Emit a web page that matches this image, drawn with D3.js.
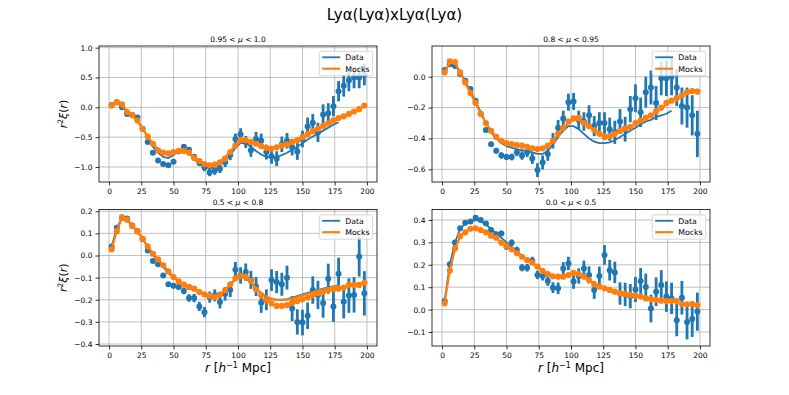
<!DOCTYPE html>
<html>
<head>
<meta charset="utf-8">
<title>Lya(Lya)xLya(Lya) wedges</title>
<script src="https://cdnjs.cloudflare.com/ajax/libs/d3/7.8.5/d3.min.js"></script>
<style>
  body { margin: 0; background: #fff; }
  svg text { font-family: "DejaVu Sans", sans-serif; fill: #000; }
</style>
</head>
<body>
<svg id="chart" width="789" height="395"></svg>
<script>
// separation bins (h^-1 Mpc)
var rBins = [2,6,10,14,18,22,26,30,34,38,42,46,50,54,58,62,66,70,74,78,82,86,90,94,98,
             102,106,110,114,118,122,126,130,134,138,142,146,150,154,158,162,166,170,174,178,182,186,190,194,198];
var rFit = rBins.slice(0, 45); // fits only go to ~180

var xTicks = [0,25,50,75,100,125,150,175,200];
var wedgeLabels = [["0.95","1.0"],["0.8","0.95"],["0.5","0.8"],["0.0","0.5"]];

// 0.95 < mu < 1.0
var data1 = [0.04,0.08,0.0,-0.11,-0.13,-0.17,-0.36,-0.58,-0.76,-0.89,-0.95,-0.97,-0.91,-0.74,-0.66,-0.71,-0.83,-0.93,-1.01,-1.09,
             -1.06,-1.03,-0.92,-0.8,-0.53,-0.45,-0.58,-0.72,-0.53,-0.56,-0.75,-0.82,-0.86,-0.62,-0.56,-0.67,-0.74,-0.53,-0.32,-0.26,
             -0.42,-0.12,-0.1,0.02,0.27,0.36,0.45,0.5,0.5,0.55];
var err1 = [0.02,0.02,0.02,0.02,0.02,0.02,0.02,0.02,0.03,0.03,0.03,0.03,0.03,0.04,0.04,0.045,0.05,0.055,0.06,0.065,
            0.07,0.07,0.08,0.085,0.09,0.1,0.1,0.11,0.12,0.12,0.125,0.125,0.125,0.13,0.13,0.135,0.14,0.14,0.15,0.15,
            0.16,0.17,0.17,0.17,0.17,0.18,0.18,0.18,0.18,0.18];
var mock1 = [0.03,0.09,0.05,-0.08,-0.13,-0.22,-0.36,-0.49,-0.61,-0.72,-0.76,-0.77,-0.75,-0.73,-0.73,-0.76,-0.85,-0.9,-0.95,-0.97,
             -0.96,-0.92,-0.86,-0.75,-0.64,-0.55,-0.55,-0.58,-0.61,-0.65,-0.68,-0.69,-0.67,-0.64,-0.62,-0.58,-0.55,-0.5,-0.45,-0.4,
             -0.36,-0.31,-0.27,-0.22,-0.18,-0.15,-0.11,-0.07,-0.03,0.03];
var fit1 = [0.05,0.07,0.02,-0.07,-0.14,-0.22,-0.34,-0.5,-0.66,-0.76,-0.83,-0.85,-0.8,-0.74,-0.72,-0.76,-0.86,-0.95,-1.0,-1.02,
            -1.01,-0.97,-0.9,-0.8,-0.68,-0.6,-0.6,-0.66,-0.73,-0.79,-0.83,-0.84,-0.83,-0.8,-0.76,-0.71,-0.66,-0.6,-0.54,-0.49,
            -0.44,-0.39,-0.34,-0.29,-0.25];
var fitMock1 = [0.03,0.08,0.04,-0.06,-0.14,-0.23,-0.36,-0.49,-0.61,-0.7,-0.75,-0.76,-0.75,-0.73,-0.73,-0.77,-0.84,-0.9,-0.94,-0.96,
                -0.95,-0.91,-0.84,-0.74,-0.64,-0.57,-0.55,-0.58,-0.62,-0.65,-0.68,-0.69,-0.67,-0.65,-0.62,-0.58,-0.54,-0.5,-0.46,-0.41,
                -0.37,-0.32,-0.28,-0.24,-0.2];

// 0.8 < mu < 0.95
var data2 = [0.043,0.08,0.07,0.017,-0.026,-0.08,-0.155,-0.24,-0.345,-0.437,-0.48,-0.51,-0.52,-0.52,-0.49,-0.51,-0.49,-0.53,-0.605,-0.555,
             -0.5,-0.415,-0.33,-0.27,-0.165,-0.16,-0.28,-0.29,-0.25,-0.32,-0.3,-0.3,-0.34,-0.36,-0.29,-0.34,-0.21,-0.14,-0.23,-0.1,
             -0.07,-0.17,-0.01,-0.01,0.0,-0.07,-0.19,-0.2,-0.25,-0.37];
var err2 = [0.01,0.01,0.01,0.01,0.01,0.012,0.012,0.014,0.015,0.016,0.018,0.02,0.02,0.022,0.025,0.028,0.03,0.035,0.045,0.045,
            0.045,0.05,0.05,0.05,0.055,0.055,0.06,0.06,0.065,0.065,0.07,0.07,0.075,0.075,0.08,0.08,0.085,0.09,0.095,0.1,
            0.11,0.11,0.11,0.115,0.12,0.12,0.12,0.13,0.13,0.15];
var mock2 = [0.028,0.1,0.095,0.028,-0.037,-0.106,-0.17,-0.24,-0.3,-0.35,-0.39,-0.415,-0.43,-0.436,-0.443,-0.447,-0.454,-0.464,-0.469,-0.464,
             -0.447,-0.415,-0.37,-0.33,-0.29,-0.27,-0.267,-0.3,-0.32,-0.345,-0.37,-0.39,-0.385,-0.37,-0.35,-0.335,-0.325,-0.3,-0.285,-0.265,
             -0.25,-0.225,-0.2,-0.17,-0.155,-0.14,-0.12,-0.1,-0.093,-0.097];
var fit2 = [0.04,0.08,0.075,0.03,-0.03,-0.09,-0.16,-0.23,-0.3,-0.36,-0.4,-0.43,-0.45,-0.46,-0.47,-0.475,-0.48,-0.49,-0.5,-0.5,
            -0.48,-0.44,-0.39,-0.35,-0.32,-0.32,-0.34,-0.37,-0.4,-0.42,-0.43,-0.43,-0.425,-0.41,-0.39,-0.37,-0.35,-0.33,-0.31,-0.29,
            -0.28,-0.26,-0.25,-0.24,-0.22];
var fitMock2 = [0.03,0.09,0.09,0.03,-0.04,-0.105,-0.17,-0.24,-0.3,-0.35,-0.39,-0.415,-0.43,-0.437,-0.443,-0.448,-0.455,-0.463,-0.467,-0.462,
                -0.445,-0.415,-0.375,-0.335,-0.3,-0.28,-0.28,-0.3,-0.32,-0.345,-0.365,-0.38,-0.38,-0.37,-0.355,-0.34,-0.325,-0.31,-0.29,-0.27,
                -0.25,-0.23,-0.205,-0.18,-0.16];

// 0.5 < mu < 0.8
var data3 = [0.041,0.126,0.17,0.167,0.136,0.111,0.073,0.023,-0.025,-0.04,-0.09,-0.13,-0.137,-0.142,-0.16,-0.192,-0.192,-0.23,-0.256,-0.188,
             -0.18,-0.21,-0.173,-0.155,-0.064,-0.09,-0.075,-0.11,-0.14,-0.214,-0.2,-0.111,-0.12,-0.13,-0.1,-0.24,-0.3,-0.303,-0.272,-0.156,
             -0.178,-0.215,-0.105,-0.23,-0.082,-0.209,-0.181,-0.178,-0.005,-0.171];
var err3 = [0.004,0.004,0.004,0.004,0.005,0.005,0.006,0.006,0.007,0.008,0.009,0.01,0.012,0.013,0.015,0.017,0.019,0.021,0.023,0.025,
            0.027,0.029,0.031,0.033,0.035,0.037,0.039,0.041,0.043,0.045,0.047,0.049,0.05,0.052,0.054,0.056,0.057,0.058,0.06,0.062,
            0.064,0.066,0.068,0.07,0.072,0.075,0.078,0.08,0.09,0.1];
var mock3 = [0.028,0.11,0.174,0.162,0.133,0.109,0.076,0.041,0.008,-0.017,-0.044,-0.072,-0.097,-0.117,-0.132,-0.142,-0.15,-0.165,-0.176,-0.182,
             -0.188,-0.176,-0.158,-0.13,-0.103,-0.093,-0.096,-0.115,-0.153,-0.179,-0.203,-0.216,-0.228,-0.228,-0.224,-0.213,-0.206,-0.198,-0.19,-0.18,
             -0.17,-0.164,-0.156,-0.153,-0.15,-0.145,-0.133,-0.133,-0.133,-0.123];
var fit3 = [0.04,0.125,0.168,0.165,0.136,0.11,0.075,0.038,0.004,-0.025,-0.052,-0.078,-0.1,-0.118,-0.133,-0.145,-0.155,-0.166,-0.176,-0.183,
            -0.186,-0.178,-0.16,-0.133,-0.108,-0.097,-0.102,-0.122,-0.15,-0.172,-0.188,-0.197,-0.2,-0.2,-0.197,-0.19,-0.183,-0.176,-0.169,-0.162,
            -0.156,-0.15,-0.144,-0.139,-0.134];
var fitMock3 = [0.03,0.11,0.17,0.16,0.133,0.108,0.076,0.042,0.01,-0.017,-0.044,-0.07,-0.095,-0.115,-0.13,-0.142,-0.152,-0.163,-0.173,-0.18,
                -0.184,-0.177,-0.158,-0.13,-0.105,-0.095,-0.1,-0.12,-0.15,-0.17,-0.185,-0.195,-0.2,-0.202,-0.2,-0.195,-0.188,-0.18,-0.173,-0.166,
                -0.16,-0.154,-0.148,-0.142,-0.137];

// 0.0 < mu < 0.5
var data4 = [0.038,0.203,0.3,0.363,0.388,0.393,0.41,0.4,0.385,0.355,0.336,0.34,0.281,0.299,0.266,0.187,0.187,0.218,0.155,0.15,
             0.128,0.098,0.095,0.184,0.206,0.125,0.15,0.183,0.155,0.088,0.15,0.244,0.176,0.166,0.072,0.068,0.06,0.09,0.128,0.101,
             0.005,0.08,0.11,0.058,0.05,-0.047,0.053,-0.055,-0.042,-0.009];
var err4 = [0.004,0.005,0.006,0.006,0.007,0.007,0.008,0.008,0.009,0.01,0.011,0.012,0.013,0.014,0.015,0.016,0.017,0.018,0.019,0.02,
            0.022,0.024,0.026,0.028,0.03,0.032,0.034,0.036,0.038,0.04,0.042,0.044,0.046,0.048,0.05,0.052,0.054,0.056,0.058,0.06,
            0.062,0.064,0.066,0.068,0.07,0.072,0.075,0.078,0.08,0.085];
var mock4 = [0.028,0.174,0.273,0.328,0.345,0.361,0.363,0.355,0.345,0.33,0.321,0.299,0.284,0.269,0.251,0.236,0.221,0.21,0.192,0.172,
             0.158,0.149,0.147,0.147,0.154,0.164,0.159,0.147,0.132,0.113,0.103,0.095,0.088,0.08,0.073,0.07,0.065,0.062,0.058,0.05,
             0.047,0.043,0.04,0.038,0.038,0.038,0.025,0.024,0.024,0.02];
var fit4 = [0.04,0.2,0.3,0.36,0.385,0.395,0.4,0.395,0.38,0.36,0.34,0.32,0.3,0.28,0.26,0.24,0.225,0.21,0.19,0.175,
            0.16,0.15,0.148,0.15,0.155,0.16,0.156,0.146,0.132,0.117,0.105,0.096,0.088,0.081,0.075,0.07,0.065,0.061,0.057,0.053,
            0.05,0.047,0.044,0.041,0.039];
var fitMock4 = [0.03,0.175,0.27,0.325,0.348,0.36,0.362,0.356,0.345,0.332,0.318,0.302,0.286,0.27,0.254,0.238,0.223,0.208,0.192,0.176,
                0.162,0.152,0.147,0.148,0.155,0.162,0.158,0.148,0.133,0.117,0.105,0.096,0.088,0.081,0.075,0.07,0.065,0.061,0.057,0.053,
                0.049,0.046,0.043,0.04,0.038];

var yTicks1 = [-1.0,-0.5,0.0,0.5,1.0];
var yTicks2 = [-0.6,-0.4,-0.2,0.0];
var yTicks3 = [-0.4,-0.3,-0.2,-0.1,0.0,0.1,0.2];
var yTicks4 = [-0.1,0.0,0.1,0.2,0.3,0.4];

var BLUE = "#1f77b4", ORANGE = "#ff7f0e";

var panels = [
  {data: data1, err: err1, mock: mock1, fit: fit1, fitMock: fitMock1, yTicks: yTicks1, label: wedgeLabels[0],
   x0: 99, x1: 377, y0: 46, y1: 182, yDom: [-1.251, 1.028], ylab: true, xlab: false},
  {data: data2, err: err2, mock: mock2, fit: fit2, fitMock: fitMock2, yTicks: yTicks2, label: wedgeLabels[1],
   x0: 432, x1: 710, y0: 46, y1: 182, yDom: [-0.682, 0.199], ylab: false, xlab: false},
  {data: data3, err: err3, mock: mock3, fit: fit3, fitMock: fitMock3, yTicks: yTicks3, label: wedgeLabels[2],
   x0: 99, x1: 377, y0: 209.5, y1: 346, yDom: [-0.409, 0.208], ylab: true, xlab: true},
  {data: data4, err: err4, mock: mock4, fit: fit4, fitMock: fitMock4, yTicks: yTicks4, label: wedgeLabels[3],
   x0: 432, x1: 710, y0: 209.5, y1: 346, yDom: [-0.1625, 0.447], ylab: false, xlab: true}
];

var svg = d3.select("#chart");

// suptitle
svg.append("text").attr("x", 394.5).attr("y", 20).attr("text-anchor", "middle")
   .attr("font-size", 15).text("Lyα(Lyα)xLyα(Lyα)");

panels.forEach(function(p) {
  var x = d3.scaleLinear().domain([-7.8, 207.8]).range([p.x0, p.x1]);
  var y = d3.scaleLinear().domain(p.yDom).range([p.y1, p.y0]);
  var g = svg.append("g");

  // grid
  g.selectAll(".gx").data(xTicks).join("line")
    .attr("x1", function(d){ return x(d); }).attr("x2", function(d){ return x(d); })
    .attr("y1", p.y0).attr("y2", p.y1)
    .attr("stroke", "#b0b0b0").attr("stroke-width", 0.8);
  g.selectAll(".gy").data(p.yTicks).join("line")
    .attr("y1", function(d){ return y(d); }).attr("y2", function(d){ return y(d); })
    .attr("x1", p.x0).attr("x2", p.x1)
    .attr("stroke", "#b0b0b0").attr("stroke-width", 0.8);

  // data error bars + points
  g.append("g").selectAll("line").data(rBins).join("line")
    .attr("x1", function(d){ return x(d); }).attr("x2", function(d){ return x(d); })
    .attr("y1", function(d, i){ return y(p.data[i] - p.err[i]); })
    .attr("y2", function(d, i){ return y(p.data[i] + p.err[i]); })
    .attr("stroke", BLUE).attr("stroke-width", 2.8);
  g.append("g").selectAll("circle").data(rBins).join("circle")
    .attr("cx", function(d){ return x(d); })
    .attr("cy", function(d, i){ return y(p.data[i]); })
    .attr("r", 3).attr("fill", BLUE);

  var line = d3.line()
    .x(function(d){ return x(d); });

  g.append("path").datum(rFit)
    .attr("d", line.y(function(d, i){ return y(p.fit[i]); }))
    .attr("fill", "none").attr("stroke", BLUE).attr("stroke-width", 1.8);

  // mocks
  g.append("g").selectAll("circle").data(rBins).join("circle")
    .attr("cx", function(d){ return x(d); })
    .attr("cy", function(d, i){ return y(p.mock[i]); })
    .attr("r", 3.1).attr("fill", ORANGE);

  g.append("path").datum(rFit)
    .attr("d", line.y(function(d, i){ return y(p.fitMock[i]); }))
    .attr("fill", "none").attr("stroke", ORANGE).attr("stroke-width", 2.2);

  // frame
  g.append("rect").attr("x", p.x0).attr("y", p.y0)
    .attr("width", p.x1 - p.x0).attr("height", p.y1 - p.y0)
    .attr("fill", "none").attr("stroke", "#000").attr("stroke-width", 0.8);

  // axes
  var xa = g.append("g").attr("transform", "translate(0," + p.y1 + ")")
    .call(d3.axisBottom(x).tickValues(xTicks).tickSize(3.5).tickPadding(3.5).tickFormat(d3.format("d")));
  var ya = g.append("g").attr("transform", "translate(" + p.x0 + ",0)")
    .call(d3.axisLeft(y).tickValues(p.yTicks).tickSize(3.5).tickPadding(3).tickFormat(d3.format(".1f")));
  [xa, ya].forEach(function(a) {
    a.select(".domain").remove();
    a.attr("font-size", 7.5).attr("font-family", "DejaVu Sans");
    a.selectAll(".tick line").attr("stroke", "#000").attr("stroke-width", 0.8);
    a.selectAll(".tick text").attr("fill", "#000");
  });

  // wedge title
  var cx = (p.x0 + p.x1) / 2;
  var t = g.append("text").attr("x", cx).attr("y", p.y0 - 4.5)
    .attr("text-anchor", "middle").attr("font-size", 7.5);
  t.append("tspan").text(p.label[0] + " < ");
  t.append("tspan").attr("font-style", "italic").text("μ");
  t.append("tspan").text(" < " + p.label[1]);

  // legend
  var bx = p.x1 - 4.3 - 53.5, by = p.y0 + 5.3;
  var lg = g.append("g");
  lg.append("rect").attr("x", bx).attr("y", by).attr("width", 53.5).attr("height", 24.4)
    .attr("rx", 2).attr("fill", "#fff").attr("fill-opacity", 0.8)
    .attr("stroke", "#cccccc").attr("stroke-width", 0.8);
  [["Data", BLUE, 1.8, 6], ["Mocks", ORANGE, 2.2, 17.4]].forEach(function(e) {
    lg.append("line").attr("x1", bx + 3).attr("x2", bx + 21)
      .attr("y1", by + e[3]).attr("y2", by + e[3])
      .attr("stroke", e[1]).attr("stroke-width", e[2]);
    lg.append("text").attr("x", bx + 26).attr("y", by + e[3] + 2.8)
      .attr("font-size", 7.8).text(e[0]);
  });

  // y label
  if (p.ylab) {
    var yl = g.append("text")
      .attr("transform", "translate(67," + ((p.y0 + p.y1) / 2) + ") rotate(-90)")
      .attr("text-anchor", "middle").attr("font-size", 11);
    yl.append("tspan").attr("font-style", "italic").text("r");
    yl.append("tspan").attr("font-size", 7.5).attr("dy", -4.5).text("2");
    yl.append("tspan").attr("font-style", "italic").attr("dy", 4.5).text("ξ");
    yl.append("tspan").text("(");
    yl.append("tspan").attr("font-style", "italic").text("r");
    yl.append("tspan").text(")");
  }
  // x label
  if (p.xlab) {
    var xl = g.append("text").attr("x", cx).attr("y", 372)
      .attr("text-anchor", "middle").attr("font-size", 12);
    xl.append("tspan").attr("font-style", "italic").text("r");
    xl.append("tspan").text(" [");
    xl.append("tspan").attr("font-style", "italic").text("h");
    xl.append("tspan").attr("font-size", 8).attr("dy", -4.5).text("−1");
    xl.append("tspan").attr("dy", 4.5).text(" Mpc]");
  }
});
</script>
</body>
</html>
